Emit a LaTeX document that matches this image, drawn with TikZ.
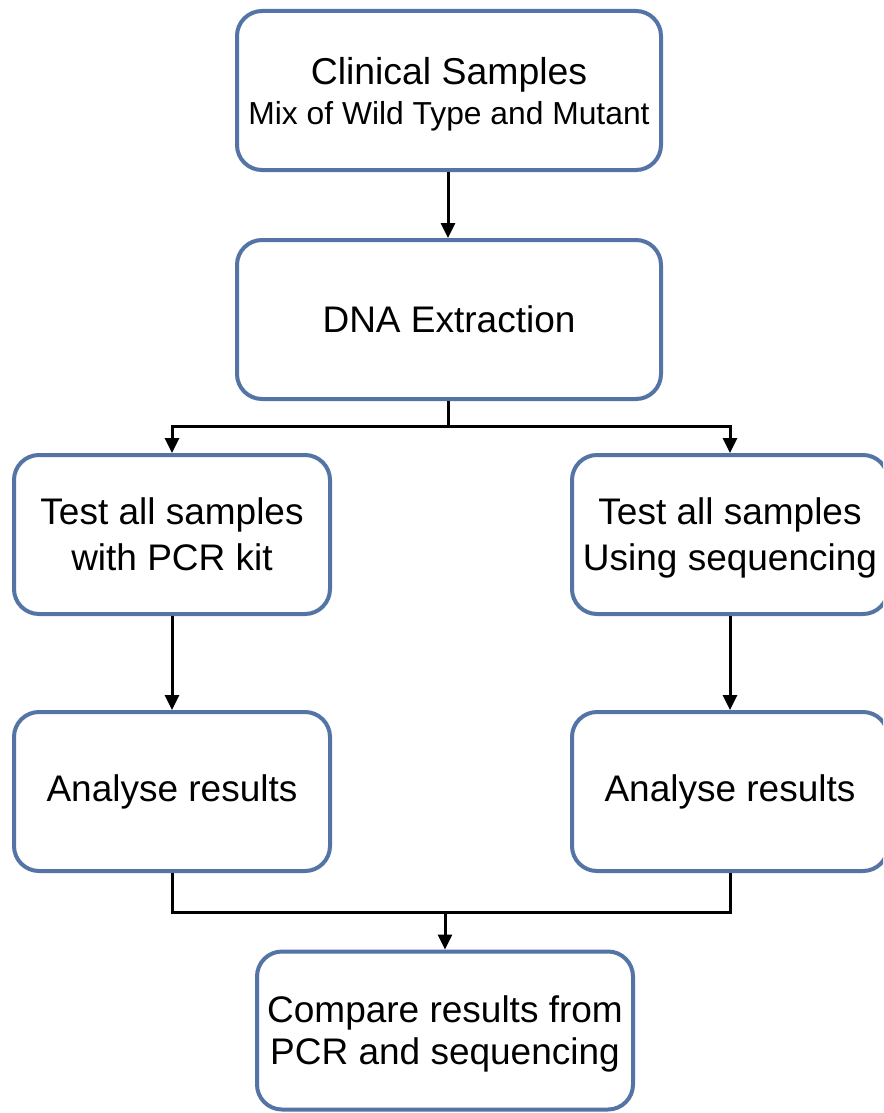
\documentclass[tikz,border=0pt]{standalone}
\usepackage{fontspec}
\setmainfont{Liberation Sans}
\usetikzlibrary{arrows.meta}
\definecolor{boxblue}{RGB}{84,116,166}
\begin{document}
\begin{tikzpicture}[x=1pt,y=-1pt,
  box/.style={draw=boxblue, line width=4pt, rounded corners=25pt, fill=white,
    inner sep=0pt, align=center, minimum width=316pt, minimum height=159pt,
    font=\fontsize{37}{46}\selectfont},
  conn/.style={line width=3pt, draw=black},
  arr/.style={conn, -{Triangle[width=14pt,length=15pt]}}]
\useasboundingbox (0,0) rectangle (883,1113);
\clip (0,0) rectangle (883,1113);
\fill[white] (0,0) rectangle (883,1113);

\node[box, minimum width=424pt, font=\fontsize{37.4}{40}\selectfont] (clin) at (449,90.5)
  {Clinical Samples\\{\fontsize{31.8}{40}\selectfont\smash{Mix of Wild Type and Mutant}}};
\node[box, minimum width=424pt] (dna) at (449,319.5) {DNA Extraction};
\node[box] (pcr) at (172,534.5) {Test all samples\\with PCR kit};
\node[box] (seq) at (730,534.5) {Test all samples\\\smash{Using sequencing}};
\node[box] (anl) at (172,791.5) {Analyse results};
\node[box] (anr) at (730,791.5) {Analyse results};
\node[box, minimum width=376pt, minimum height=158pt, font=\fontsize{37}{42}\selectfont] (cmp) at (445,1030.5)
  {Compare results from\\\smash{PCR and sequencing}};

\coordinate (split) at (448,426);
\coordinate (join) at (445,912);

\draw[arr] (clin.south -| split) -- (dna.north -| split);
\draw[conn] (dna.south -| split) -- (split);
\draw[arr] (split) -| (pcr.north);
\draw[arr] (split) -| (seq.north);
\draw[arr] (pcr.south) -- (anl.north);
\draw[arr] (seq.south) -- (anr.north);
\draw[conn] (anl.south) |- (join) -| (anr.south);
\draw[arr] (join) -- (cmp.north -| join);
\end{tikzpicture}
\end{document}
